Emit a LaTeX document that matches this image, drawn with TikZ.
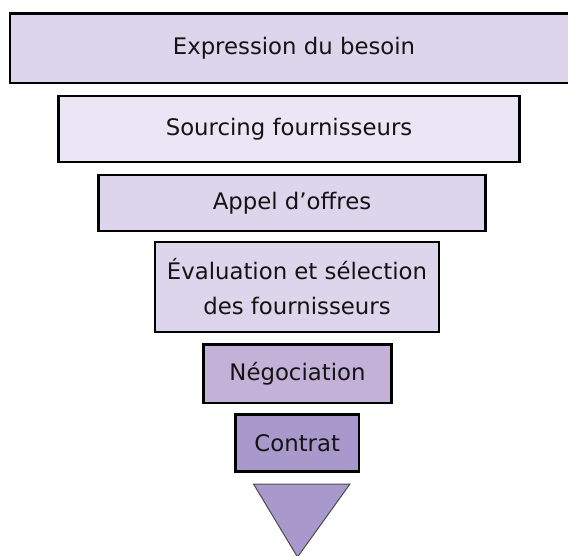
\documentclass[tikz,border=0pt]{standalone}
\usepackage{fontspec}
\setmainfont{DejaVu Sans}
\definecolor{lavA}{HTML}{DCD5EC}
\definecolor{lavB}{HTML}{EAE6F6}
\definecolor{lavC}{HTML}{C3B1D8}
\definecolor{lavD}{HTML}{A898CB}
\begin{document}
\begin{tikzpicture}[x=1pt,y=-1pt,
  stage/.style={draw=black, line width=2.5pt, rectangle, inner sep=0pt,
    font=\fontsize{22.8}{35}\selectfont, align=center, text=black!92}]
\useasboundingbox (0,0) rectangle (568,556);
\node[stage, fill=lavA, minimum width=568pt, minimum height=69.5pt] (b1) at (294,48.25) {Expression du besoin};
\node[stage, fill=lavB, minimum width=461pt, minimum height=66pt] (b2) at (289,129) {Sourcing fournisseurs};
\node[stage, fill=lavA, minimum width=387pt, minimum height=56pt] (b3) at (292,203) {Appel d’offres};
\node[stage, fill=lavA, minimum width=284pt, minimum height=90pt] (b4) at (297,287) {Évaluation et sélection\\des fournisseurs};
\node[stage, fill=lavC, minimum width=188pt, minimum height=58.5pt] (b5) at (297.5,373.75) {Négociation};
\node[stage, fill=lavD, minimum width=123.5pt, minimum height=57pt] (b6) at (297.25,443) {Contrat};
\coordinate (t1) at (253.5,484);
\coordinate (t2) at (350,484);
\coordinate (t3) at (297.5,557);
\draw[fill=lavD, draw=black!70, line width=1pt] (t1) -- (t2) -- (t3) -- cycle;
\end{tikzpicture}
\end{document}
